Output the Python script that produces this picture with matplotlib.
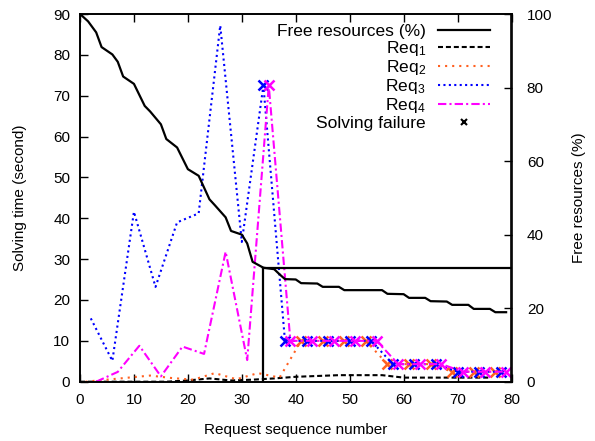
import numpy as np
import matplotlib
matplotlib.use("Agg")
import matplotlib.pyplot as plt
from matplotlib.lines import Line2D

plt.rcParams['font.family'] = ['Liberation Sans', 'DejaVu Sans']
plt.rcParams['mathtext.fontset'] = 'custom'
plt.rcParams['mathtext.rm'] = 'Liberation Sans'
plt.rcParams['mathtext.it'] = 'Liberation Sans:italic'

# free resources (%) vs request number
free_x = [0, 1.5, 3, 4, 6, 7, 8, 10, 12, 13, 15, 16, 18, 20, 22, 24, 25, 27, 28, 30,
          31, 32, 34, 36, 37, 38, 40, 41, 44, 45, 48, 49, 56, 57, 60, 61, 64, 65,
          68, 69, 72, 73, 76, 77, 79]
free_pct = [100, 98, 95, 91, 89, 87, 83, 81, 75, 73.5, 70, 66, 63.7, 57.8, 56, 49.6, 48,
            44.7, 41, 40, 37.6, 32.6, 31, 30.6, 29.2, 27.9, 27.8, 26.8, 26.7, 25.8,
            25.8, 24.9, 24.9, 23.9, 23.8, 22.8, 22.8, 21.9, 21.8, 20.9, 20.9, 19.8,
            19.8, 18.9, 18.9]

# solving time (s), requests of each kind come in turn
req1_x = list(range(0, 80, 4))
req1_t = [0, 0, 0, 0, 0, 0.3, 0.8, 0.3, 0.5, 0.8, 1.2, 1.4, 1.6, 1.6, 1.6, 1.0,
          1.0, 1.0, 1.0, 1.0]
req2_x = list(range(1, 80, 4))
req2_t = [0, 0.5, 1.0, 1.5, 0.9, 0.5, 2.1, 0.6, 2.1, 1.0, 10, 10, 10, 10, 4.3, 4.3,
          4.3, 2.45, 2.45, 2.45]
req3_x = list(range(2, 80, 4))
req3_t = [15.5, 5.1, 41.6, 23.2, 39, 41.2, 87.2, 34.2, 72.5, 10, 10, 10, 10, 10,
          4.3, 4.3, 4.3, 2.45, 2.45, 2.45]
req4_x = list(range(3, 80, 4))
req4_t = [0, 2.4, 8.8, 1.3, 8.6, 6.8, 31.8, 5.3, 72.5, 10, 10, 10, 10, 10, 4.3,
          4.3, 4.3, 2.45, 2.45, 2.45]

# first request number that failed, per kind
fail_from = {'req2': 41, 'req3': 34, 'req4': 35}

# marked level
mark_x = 34
mark_pct = 31

fig = plt.figure(figsize=(5.95, 4.41), dpi=100)
ax = fig.add_axes([80 / 595, 1 - 381.7 / 441, 431.5 / 595, 367.7 / 441])
ax2 = ax.twinx()

orange = '#ff6020'
lw = 1.5


def fails(xs, start):
    return [i for i, x in enumerate(xs) if x >= start]


l1, = ax.plot(req1_x, req1_t, color='black', lw=lw, ls=(0, (2.4, 1.4)))
l2, = ax.plot(req2_x, req2_t, color=orange, lw=lw, ls=(0, (1, 2.4)),
              marker='x', ms=6.5, mew=1.8, markevery=fails(req2_x, fail_from['req2']))
l3, = ax.plot(req3_x, req3_t, color='blue', lw=lw, ls=(0, (1, 1.6)),
              marker='x', ms=6.5, mew=1.8, markevery=fails(req3_x, fail_from['req3']))
l4, = ax.plot(req4_x, req4_t, color='magenta', lw=lw, ls=(0, (4, 1.5, 1, 1.5)),
              marker='x', ms=6.5, mew=1.8, markevery=fails(req4_x, fail_from['req4']))

lf, = ax2.plot(free_x, free_pct, color='black', lw=1.6)
ax2.plot([mark_x, mark_x], [0, mark_pct], color='black', lw=1.6)
ax2.plot([mark_x, 80], [mark_pct, mark_pct], color='black', lw=1.6)

ax.set_xlim(0, 80)
ax.set_ylim(0, 90)
ax2.set_ylim(0, 100)
ax.set_xticks(range(0, 81, 10))
ax.set_yticks(range(0, 91, 10))
ax2.set_yticks(range(0, 101, 20))

ax.tick_params(axis='both', direction='in', length=6, width=1, labelsize=11)
ax.tick_params(axis='x', top=True, pad=8)
ax.tick_params(axis='y', right=False, pad=7)
ax2.tick_params(axis='y', direction='in', length=6, width=1, labelsize=11, pad=11)
for a in (ax, ax2):
    for s in a.spines.values():
        s.set_linewidth(1.2)

ax.set_xlabel('Request sequence number', fontsize=11, labelpad=12)
ax.set_ylabel('Solving time (second)', fontsize=11, labelpad=19)
ax2.set_ylabel('Free resources (%)', fontsize=11, labelpad=14)

fail_h = Line2D([], [], ls='none', marker='x', color='black', ms=4, mew=1.5)
leg = ax2.legend([lf, l1, l2, l3, l4, fail_h],
                 ['Free resources (%)', 'Req$_1$', 'Req$_2$', 'Req$_3$', 'Req$_4$',
                  'Solving failure'],
                 loc='upper right', bbox_to_anchor=(0.95, 0.972), borderaxespad=0,
                 borderpad=0, frameon=False, markerfirst=False, handlelength=3.0,
                 handletextpad=0.7, labelspacing=0.0, fontsize=12.5)
for h in leg.legend_handles[1:5]:
    h.set_marker('')

fig.savefig('out.png', dpi=100)
